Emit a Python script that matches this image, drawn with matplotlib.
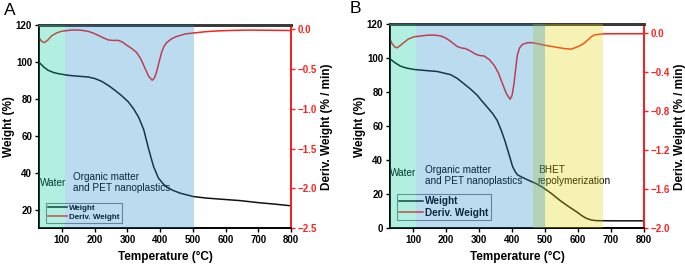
import matplotlib
matplotlib.use("Agg")
import matplotlib.pyplot as plt
from matplotlib.lines import Line2D

plt.rcParams["font.family"] = ["Liberation Sans", "DejaVu Sans"]

# ---- panel A data ----
a_wt_temp = [31, 46, 58, 75, 89, 119, 150, 180, 200, 221, 242, 262, 283, 303, 320, 335,
             350, 365, 380, 395, 410, 421, 440, 462, 502, 540, 584, 645, 700, 750, 800]
a_wt = [99.8, 97.2, 95.6, 94.4, 93.8, 92.9, 92.4, 92.0, 91.2, 89.7, 87.4, 84.8, 81.8, 78.5,
        74.5, 70.0, 63.5, 53.0, 43.5, 37.2, 34.0, 32.3, 30.5, 29.0, 27.2, 26.4, 25.8, 25.0,
        23.9, 23.1, 22.2]
a_dw_temp = [31, 38, 46, 56, 68, 84, 99, 129, 155, 180, 196, 211, 227, 242, 257, 272, 285,
             298, 313, 328, 341, 354, 365, 376, 383, 389, 397, 405, 412, 420, 433, 446, 476,
             507, 540, 574, 620, 676, 730, 800]
a_dw = [-0.110, -0.150, -0.168, -0.140, -0.084, -0.045, -0.025, -0.009, -0.010, -0.025,
        -0.048, -0.076, -0.108, -0.134, -0.140, -0.139, -0.160, -0.200, -0.240, -0.290,
        -0.370, -0.490, -0.590, -0.640, -0.610, -0.540, -0.410, -0.285, -0.215, -0.168,
        -0.125, -0.097, -0.059, -0.044, -0.030, -0.021, -0.014, -0.010, -0.012, -0.015]

# ---- panel B data ----
b_wt_temp = [27, 44, 61, 80, 102, 140, 173, 214, 234, 254, 275, 295, 306, 320, 341, 355,
             367, 378, 387, 395, 402, 410, 417, 435, 453, 473, 493, 520, 544, 570, 595, 612,
             625, 640, 655, 700, 750, 800]
b_wt = [100.2, 97.6, 95.5, 94.3, 93.5, 92.8, 92.3, 90.4, 88.2, 85.1, 81.8, 78.2, 75.5, 72.4,
        67.6, 63.5, 57.8, 51.8, 46.0, 40.8, 36.2, 33.2, 31.4, 29.6, 28.0, 26.3, 24.1, 20.4,
        16.6, 13.0, 9.8, 7.4, 5.9, 4.9, 4.5, 4.4, 4.4, 4.4]
b_dw_temp = [27, 36, 44, 51, 60, 72, 86, 102, 143, 165, 183, 196, 209, 222, 234, 247, 259,
             275, 290, 303, 315, 331, 346, 359, 371, 383, 394, 400, 406, 411, 416, 423, 431,
             444, 457, 478, 498, 530, 559, 580, 605, 618, 630, 641, 651, 676, 730, 800]
b_dw = [-0.038, -0.106, -0.140, -0.151, -0.130, -0.096, -0.060, -0.038, -0.021, -0.020,
        -0.028, -0.045, -0.072, -0.105, -0.137, -0.152, -0.158, -0.185, -0.216, -0.230,
        -0.233, -0.270, -0.330, -0.410, -0.517, -0.620, -0.677, -0.640, -0.517, -0.370,
        -0.226, -0.150, -0.117, -0.100, -0.096, -0.108, -0.123, -0.142, -0.158, -0.164,
        -0.130, -0.105, -0.069, -0.035, -0.017, -0.007, -0.006, -0.006]

WT_COLOR = "#121212"
DW_COLOR = "#ff2020"
CYAN = "#05cd9b"
BLUE = "#208acd"
YELLOW = "#ded705"

fig = plt.figure(figsize=(6.85, 2.65), dpi=100)


def style_axes(ax, ax2, ylim, yticks, dlim, dticks, dfmt):
    ax.set_xlim(30, 800)
    ax.set_xticks(range(100, 801, 100))
    ax.set_ylim(*ylim)
    ax.set_yticks(yticks)
    ax2.set_ylim(*dlim)
    ax2.set_yticks(dticks)
    ax2.set_yticklabels([dfmt.format(v).replace("-", "\u2212") for v in dticks])
    for a in (ax, ax2):
        for s in a.spines.values():
            s.set_linewidth(1.2)
        a.spines["top"].set_color("#3a3a3a")
        a.spines["top"].set_linewidth(2.0)
    ax2.spines["right"].set_color(DW_COLOR)
    ax2.spines["right"].set_linewidth(1.4)
    ax.tick_params(axis="both", direction="out", length=3, width=1, labelsize=7, pad=2)
    ax2.tick_params(axis="y", direction="out", length=3, width=1, labelsize=7, pad=2,
                    colors=DW_COLOR)
    for lab in ax.get_xticklabels() + ax.get_yticklabels() + ax2.get_yticklabels():
        lab.set_fontweight("bold")
    ax.set_xlabel("Temperature (\u00b0C)", fontsize=8.5, fontweight="bold", labelpad=4)
    ax.set_ylabel("Weight (%)", fontsize=8.5, fontweight="bold", labelpad=0.5)
    ax2.set_ylabel("Deriv. Weight (% / min)", fontsize=8.5, fontweight="bold", labelpad=3)


def add_legend(ax2, size, loc_xy):
    handles = [Line2D([], [], color=WT_COLOR, lw=1.1),
               Line2D([], [], color=DW_COLOR, lw=1.1)]
    leg = ax2.legend(handles, ["Weight", "Deriv. Weight"], loc="lower left",
                     bbox_to_anchor=loc_xy, frameon=True, fancybox=False,
                     prop={"size": size, "weight": "bold"}, handlelength=2.4,
                     handletextpad=0.2, borderpad=0.25, labelspacing=0.15,
                     borderaxespad=0)
    leg.get_frame().set_facecolor("none")
    leg.get_frame().set_edgecolor("#5a6470")
    leg.get_frame().set_linewidth(0.8)
    leg.set_zorder(5)


# ---------------- panel A ----------------
axA = fig.add_axes([0.0569, 0.1385, 0.3679, 0.766])
axA2 = axA.twinx()
axA.plot(a_wt_temp, a_wt, color=WT_COLOR, lw=1.1)
axA2.plot(a_dw_temp, a_dw, color=DW_COLOR, lw=1.1)
style_axes(axA, axA2, (10, 120), range(20, 121, 20), (-2.5, 0.05),
           [0.0, -0.5, -1.0, -1.5, -2.0, -2.5], "{:.1f}")
axA.text(33, 34.5, "Water", fontsize=7.2, va="center", ha="left")
axA.text(133, 34.7, "Organic matter\nand PET nanoplastics", fontsize=7.2,
         va="center", ha="left", linespacing=1.1)
add_legend(axA2, 5.8, (0.028, 0.026))
axA2.axvspan(30, 110, color=CYAN, alpha=0.3, lw=0, zorder=10)
axA2.axvspan(110, 505, color=BLUE, alpha=0.3, lw=0, zorder=10)

# ---------------- panel B ----------------
axB = fig.add_axes([0.5693, 0.1385, 0.3708, 0.7695])
axB2 = axB.twinx()
axB.plot(b_wt_temp, b_wt, color=WT_COLOR, lw=1.1)
axB2.plot(b_dw_temp, b_dw, color=DW_COLOR, lw=1.1)
style_axes(axB, axB2, (0, 120), range(0, 121, 20), (-2.0, 0.09),
           [0.0, -0.4, -0.8, -1.2, -1.6, -2.0], "{:.1f}")
axB.text(31, 32.4, "Water", fontsize=7.2, va="center", ha="left")
axB.text(135, 31.0, "Organic matter\nand PET nanoplastics", fontsize=7.2,
         va="center", ha="left", linespacing=1.1)
axB.text(478, 31.0, "BHET\nrepolymerization", fontsize=7.2,
         va="center", ha="left", linespacing=1.1)
add_legend(axB2, 7.2, (0.026, 0.04))
axB2.axvspan(30, 110, color=CYAN, alpha=0.3, lw=0, zorder=10)
axB2.axvspan(463, 676, color=YELLOW, alpha=0.3, lw=0, zorder=10)
axB2.axvspan(110, 500, color=BLUE, alpha=0.3, lw=0, zorder=10)

fig.text(0.006, 0.99, "A", fontsize=12.5, va="top", ha="left")
fig.text(0.511, 0.995, "B", fontsize=12.5, va="top", ha="left")

fig.savefig("out.png", dpi=100)
